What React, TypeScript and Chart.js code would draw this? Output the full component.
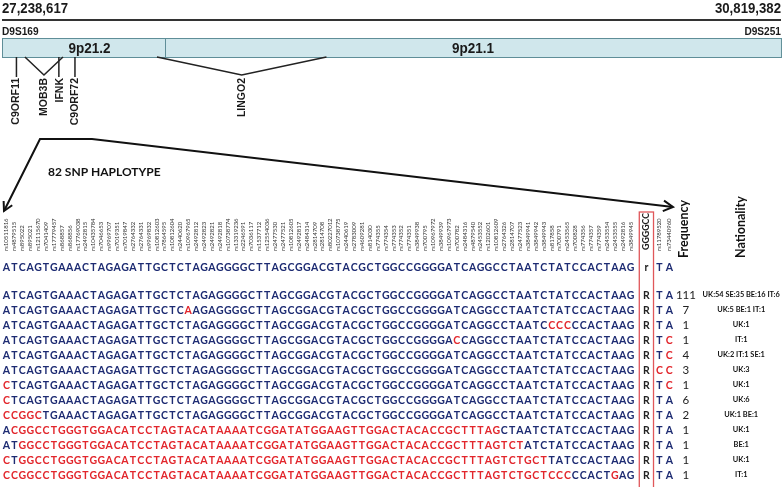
import React, { useEffect, useRef } from "react";
import { Chart, registerables } from "chart.js";

Chart.register(...registerables);

const W = 783;
const H = 487;

// ---------- genomic region (top panel) ----------
const REGION_BOUNDS = [27238617, 30819382];
const REGION_LABELS = ["27,238,617", "30,819,382"];
const MARKER_NAMES = ["D9S169", "D9S251"];
const BAND_NAMES = ["9p21.2", "9p21.1"];
const BAND_STARTS = [27238617, 27988000];
const BAND_ENDS = [27988000, 30819382];
const GENE_NAMES = ["C9ORF11", "MOB3B", "IFNK", "C9ORF72", "LINGO2"];
const GENE_STARTS = [27305000, 27344000, 27500000, 27574000, 27951000];
const GENE_ENDS = [27305000, 27519000, 27500000, 27574000, 28730000];

// ---------- haplotype panel ----------
const SNP_IDS = [
  "rs10511816", "rs4879515", "rs895022", "rs895021", "rs12115670", "rs7041409", "rs17779457", "rs868857",
  "rs868856", "rs17769038", "rs2492815", "rs10435784", "rs7046653", "rs9969707", "rs7019351", "rs7019847",
  "rs2764332", "rs2764331", "rs9969832", "rs10812603", "rs7864595", "rs10812604", "rs2440620", "rs10967965",
  "rs2492812", "rs2492823", "rs2492821", "rs2492818", "rs10738774", "rs13319236", "rs2246591", "rs7036117",
  "rs1537712", "rs12554036", "rs2477530", "rs2477521", "rs10812605", "rs2492817", "rs2484314", "rs2814709",
  "rs2814708", "rs80227012", "rs10738775", "rs2440619", "rs2783009", "rs4609281", "rs814030", "rs774355",
  "rs774354", "rs774353", "rs774352", "rs774351", "rs3849938", "rs700795", "rs10967972", "rs3849939",
  "rs10967973", "rs700782", "rs2484316", "rs4879540", "rs2453552", "rs1202601", "rs10812609", "rs2764326",
  "rs2814707", "rs2477523", "rs3849941", "rs3849942", "rs3849943", "rs817858", "rs700791", "rs2453565",
  "rs700828", "rs774356", "rs774357", "rs774359", "rs2453554", "rs2453555", "rs2492816", "rs3849945",
];
const TAIL_IDS = ["rs11789520", "rs73440960"];
const REPEAT_LABEL = "GGGGCC";

const REFERENCE = "ATCAGTGAAACTAGAGATTGCTCTAGAGGGGCTTAGCGGACGTACGCTGGCCGGGGATCAGGCCTAATCTATCCACTAAG";
const REFERENCE_REPEAT = "r";
const REFERENCE_TAIL = "TA";

// lower-case letters = allele differing from the risk haplotype (drawn red)
const HAPLOTYPES = [
  "ATCAGTGAAACTAGAGATTGCTCTAGAGGGGCTTAGCGGACGTACGCTGGCCGGGGATCAGGCCTAATCTATCCACTAAG",
  "ATCAGTGAAACTAGAGATTGCTCaAGAGGGGCTTAGCGGACGTACGCTGGCCGGGGATCAGGCCTAATCTATCCACTAAG",
  "ATCAGTGAAACTAGAGATTGCTCTAGAGGGGCTTAGCGGACGTACGCTGGCCGGGGATCAGGCCTAATCcccCCACTAAG",
  "ATCAGTGAAACTAGAGATTGCTCTAGAGGGGCTTAGCGGACGTACGCTGGCCGGGGAcCAGGCCTAATCTATCCACTAAG",
  "ATCAGTGAAACTAGAGATTGCTCTAGAGGGGCTTAGCGGACGTACGCTGGCCGGGGATCAGGCCTAATCTATCCACTAAG",
  "ATCAGTGAAACTAGAGATTGCTCTAGAGGGGCTTAGCGGACGTACGCTGGCCGGGGATCAGGCCTAATCTATCCACTAAG",
  "cTCAGTGAAACTAGAGATTGCTCTAGAGGGGCTTAGCGGACGTACGCTGGCCGGGGATCAGGCCTAATCTATCCACTAAG",
  "cTCAGTGAAACTAGAGATTGCTCTAGAGGGGCTTAGCGGACGTACGCTGGCCGGGGATCAGGCCTAATCTATCCACTAAG",
  "ccggcTGAAACTAGAGATTGCTCTAGAGGGGCTTAGCGGACGTACGCTGGCCGGGGATCAGGCCTAATCTATCCACTAAG",
  "AcggcctgggtggacatcctagtacataaaatcggatatggaagttggactacaccgctttagCTAATCTATCCACTAAG",
  "ATggcctgggtggacatcctagtacataaaatcggatatggaagttggactacaccgctttagtctATCTATCCACTAAG",
  "cTggcctgggtggacatcctagtacataaaatcggatatggaagttggactacaccgctttagtctgctTATCCACTAAG",
  "ccggcctgggtggacatcctagtacataaaatcggatatggaagttggactacaccgctttagtctgctcccCCACTgAG",
];
const REPEAT_CALLS = ["R", "R", "R", "R", "R", "R", "R", "R", "R", "R", "R", "R", "R"];
const TAIL_ALLELES = ["TA", "TA", "TA", "Tc", "Tc", "cc", "Tc", "TA", "TA", "TA", "TA", "TA", "TA"];
const FREQUENCIES = [111, 7, 1, 1, 4, 3, 1, 6, 2, 1, 1, 1, 1];
const NATIONALITIES = [
  "UK:54 SE:35 BE:16 IT:6", "UK:5 BE:1 IT:1", "UK:1", "IT:1", "UK:2 IT:1 SE:1", "UK:3", "UK:1",
  "UK:6", "UK:1 BE:1", "UK:1", "BE:1", "UK:1", "IT:1",
];

// ---------- layout (styling only) ----------
const G_LEFT_PX = 2;
const G_RIGHT_PX = 781;
const G_PER_PX = (REGION_BOUNDS[1] - REGION_BOUNDS[0]) / (G_RIGHT_PX - G_LEFT_PX);
const G_MIN = REGION_BOUNDS[0] - G_LEFT_PX * G_PER_PX;
const G_MAX = G_MIN + W * G_PER_PX;

const SNP_X0 = 6.5;
const SNP_PITCH = 7.9;
const S_MIN = -SNP_X0 / SNP_PITCH;
const S_MAX = S_MIN + W / SNP_PITCH;

const ROW_Y0 = 295;
const ROW_PITCH = 15;
const R_MIN = -ROW_Y0 / ROW_PITCH;
const R_MAX = R_MIN + H / ROW_PITCH;
const HEADER_ROW = -28 / ROW_PITCH;
const ID_BASE_ROW = -44 / ROW_PITCH;
const TITLE_BASE_ROW = -37 / ROW_PITCH;
const BOX_TOP_ROW = -83 / ROW_PITCH;

const REPEAT_COL = 81;
const TAIL_COLS = [82.65, 83.9];
const FREQ_COL = 86;
const NAT_COL = 93;

const TOP_LINE_Y = 20;
const BAND_TOP = 38;
const BAND_BOTTOM = 57;
const GENE_APEX_Y = 75;

const POINTER_PATH = [
  { x: 4, y: 211 },
  { x: 40, y: 139 },
  { x: 92, y: 139 },
  { x: 673, y: 207 },
];

const BLUE = "#1d2b72";
const RED = "#e2262c";
const DARK = "#1a1a1a";

function drawText(
  ctx: CanvasRenderingContext2D,
  s: string,
  x: number,
  y: number,
  font: string,
  color: string,
  align: CanvasTextAlign = "center",
  baseline: CanvasTextBaseline = "middle",
  rot = 0,
  sx = 1
) {
  ctx.save();
  ctx.translate(x, y);
  if (rot) ctx.rotate(rot);
  if (sx !== 1) ctx.scale(sx, 1);
  ctx.font = font;
  ctx.fillStyle = color;
  ctx.textAlign = align;
  ctx.textBaseline = baseline;
  ctx.fillText(s, 0, 0);
  ctx.restore();
}

function chevron(ctx: CanvasRenderingContext2D, tip: { x: number; y: number }, from: { x: number; y: number }, len: number) {
  const a = Math.atan2(tip.y - from.y, tip.x - from.x);
  const spread = 0.5;
  ctx.beginPath();
  ctx.moveTo(tip.x - len * Math.cos(a - spread), tip.y - len * Math.sin(a - spread));
  ctx.lineTo(tip.x, tip.y);
  ctx.lineTo(tip.x - len * Math.cos(a + spread), tip.y - len * Math.sin(a + spread));
  ctx.stroke();
}

const diagramPlugin = {
  id: "haplotypeDiagram",
  beforeDatasetsDraw(chart: any) {
    const ctx: CanvasRenderingContext2D = chart.ctx;
    const g = chart.scales.g;
    const y = chart.scales.y;
    ctx.save();
    ctx.fillStyle = "#fff";
    ctx.fillRect(0, 0, W, H);
    const top = y.getPixelForValue(BAND_TOP);
    const bot = y.getPixelForValue(BAND_BOTTOM);
    BAND_NAMES.forEach((_, i) => {
      const x0 = g.getPixelForValue(BAND_STARTS[i]);
      const x1 = g.getPixelForValue(BAND_ENDS[i]);
      ctx.fillStyle = "#d0e7ec";
      ctx.fillRect(x0, top, x1 - x0, bot - top);
      ctx.strokeStyle = "#5f8e98";
      ctx.lineWidth = 1;
      ctx.strokeRect(Math.round(x0) + 0.5, Math.round(top) + 0.5, x1 - x0, bot - top);
    });
    ctx.restore();
  },
  afterDatasetsDraw(chart: any) {
    const ctx: CanvasRenderingContext2D = chart.ctx;
    const { g, y, s, r, x } = chart.scales;
    const ARIAL = "'Liberation Sans', Arial, sans-serif";
    const LATO = "Lato, 'Open Sans', sans-serif";

    // top panel texts
    drawText(ctx, REGION_LABELS[0], g.getPixelForValue(REGION_BOUNDS[0]), y.getPixelForValue(9), `bold 15px ${ARIAL}`, DARK, "left", "middle", 0, 0.88);
    drawText(ctx, REGION_LABELS[1], g.getPixelForValue(REGION_BOUNDS[1]), y.getPixelForValue(9), `bold 15px ${ARIAL}`, DARK, "right", "middle", 0, 0.88);
    drawText(ctx, MARKER_NAMES[0], g.getPixelForValue(REGION_BOUNDS[0]), y.getPixelForValue(32), `bold 11px ${ARIAL}`, DARK, "left", "middle", 0, 0.92);
    drawText(ctx, MARKER_NAMES[1], g.getPixelForValue(REGION_BOUNDS[1]), y.getPixelForValue(32), `bold 11px ${ARIAL}`, DARK, "right", "middle", 0, 0.92);
    BAND_NAMES.forEach((n, i) => {
      const cx = (g.getPixelForValue(BAND_STARTS[i]) + g.getPixelForValue(BAND_ENDS[i])) / 2 + (i === 0 ? 6 : 0);
      drawText(ctx, n, cx, y.getPixelForValue((BAND_TOP + BAND_BOTTOM) / 2 + 1), `bold 15px ${ARIAL}`, DARK, "center", "middle", 0, 0.9);
    });
    GENE_NAMES.forEach((n, i) => {
      const cx = g.getPixelForValue((GENE_STARTS[i] + GENE_ENDS[i]) / 2) + (n === "IFNK" ? 1 : 0);
      drawText(ctx, n, cx, y.getPixelForValue(GENE_APEX_Y + 3), `bold 10.5px ${ARIAL}`, DARK, "right", "middle", -Math.PI / 2);
    });

    // pointer arrowheads
    ctx.save();
    ctx.strokeStyle = "#111";
    ctx.lineWidth = 2;
    const pts = POINTER_PATH.map((p) => ({ x: x.getPixelForValue(p.x), y: y.getPixelForValue(p.y) }));
    chevron(ctx, pts[0], pts[1], 10);
    chevron(ctx, pts[pts.length - 1], pts[pts.length - 2], 11);
    ctx.restore();
    drawText(
      ctx,
      `${SNP_IDS.length + TAIL_IDS.length} SNP HAPLOTYPE`,
      x.getPixelForValue(48),
      y.getPixelForValue(172),
      `bold 12px ${LATO}`,
      "#111",
      "left",
      "middle"
    );

    // SNP ids
    const idY = r.getPixelForValue(ID_BASE_ROW);
    SNP_IDS.forEach((id, i) => {
      drawText(ctx, id, s.getPixelForValue(i), idY, `6px ${LATO}`, "#333", "left", "middle", -Math.PI / 2);
    });
    TAIL_IDS.forEach((id, i) => {
      drawText(ctx, id, s.getPixelForValue(TAIL_COLS[i]), idY, `6px ${LATO}`, "#333", "left", "middle", -Math.PI / 2);
    });
    drawText(ctx, REPEAT_LABEL, s.getPixelForValue(REPEAT_COL), idY - 1, `bold 8.8px ${LATO}`, "#222", "left", "middle", -Math.PI / 2);
    const titleY = r.getPixelForValue(TITLE_BASE_ROW);
    drawText(ctx, "Frequency", s.getPixelForValue(FREQ_COL) - 2, titleY, `bold 12.5px ${LATO}`, "#111", "left", "middle", -Math.PI / 2);
    drawText(ctx, "Nationality", s.getPixelForValue(NAT_COL), titleY, `bold 12.5px ${LATO}`, "#111", "left", "middle", -Math.PI / 2);

    // repeat box
    ctx.save();
    ctx.strokeStyle = "#e0575a";
    ctx.lineWidth = 1.3;
    const bx0 = s.getPixelForValue(REPEAT_COL - 0.9);
    const bx1 = s.getPixelForValue(REPEAT_COL + 0.9);
    const by0 = r.getPixelForValue(BOX_TOP_ROW);
    ctx.strokeRect(bx0, by0, bx1 - bx0, H + 10 - by0);
    ctx.restore();

    const LETTER_FONT = `bold 10.5px ${LATO}`;
    const letterRow = (seq: string, row: number) => {
      const yy = r.getPixelForValue(row) + 3.8;
      for (let i = 0; i < seq.length; i++) {
        const ch = seq[i];
        const alt = ch !== ch.toUpperCase();
        drawText(ctx, ch.toUpperCase(), s.getPixelForValue(i), yy, LETTER_FONT, alt ? RED : BLUE, "center", "alphabetic");
      }
    };
    const tail = (t: string, row: number) => {
      const yy = r.getPixelForValue(row) + 3.8;
      for (let k = 0; k < t.length; k++) {
        const alt = t[k] !== t[k].toUpperCase();
        drawText(ctx, t[k].toUpperCase(), s.getPixelForValue(TAIL_COLS[k]), yy, LETTER_FONT, alt ? RED : BLUE, "center", "alphabetic");
      }
    };

    // reference haplotype row
    letterRow(REFERENCE, HEADER_ROW);
    drawText(ctx, REFERENCE_REPEAT, s.getPixelForValue(REPEAT_COL), r.getPixelForValue(HEADER_ROW) + 3.8, LETTER_FONT, "#222", "center", "alphabetic");
    tail(REFERENCE_TAIL, HEADER_ROW);

    HAPLOTYPES.forEach((seq, k) => {
      letterRow(seq, k);
      const yy = r.getPixelForValue(k) + 3.8;
      drawText(ctx, REPEAT_CALLS[k], s.getPixelForValue(REPEAT_COL), yy, LETTER_FONT, "#222", "center", "alphabetic");
      tail(TAIL_ALLELES[k], k);
      drawText(ctx, String(FREQUENCIES[k]), s.getPixelForValue(FREQ_COL), yy + 0.3, `11.5px ${LATO}`, "#222", "center", "alphabetic");
      drawText(ctx, NATIONALITIES[k], s.getPixelForValue(NAT_COL), r.getPixelForValue(k), `bold 7.4px ${LATO}`, "#111", "center", "middle");
    });
  },
};

export default function App() {
  const canvasRef = useRef<HTMLCanvasElement>(null);

  useEffect(() => {
    const canvas = canvasRef.current;
    if (!canvas) return;

    const geneLines = GENE_NAMES.map((n, i) => {
      const a = GENE_STARTS[i];
      const b = GENE_ENDS[i];
      const data =
        a === b
          ? [
              { x: a, y: BAND_BOTTOM },
              { x: a, y: GENE_APEX_Y + 2 },
            ]
          : [
              { x: a, y: BAND_BOTTOM },
              { x: (a + b) / 2, y: GENE_APEX_Y },
              { x: b, y: BAND_BOTTOM },
            ];
      return {
        label: n,
        data,
        xAxisID: "g",
        yAxisID: "y",
        showLine: true,
        borderColor: "#222",
        borderWidth: 1.5,
        pointRadius: 0,
        tension: 0,
      };
    });

    const chart = new Chart(canvas, {
      type: "scatter",
      data: {
        datasets: [
          {
            label: "region",
            data: REGION_BOUNDS.map((v) => ({ x: v, y: TOP_LINE_Y })),
            xAxisID: "g",
            yAxisID: "y",
            showLine: true,
            borderColor: "#333",
            borderWidth: 2,
            pointRadius: 0,
          },
          ...geneLines,
          {
            label: "pointer",
            data: POINTER_PATH,
            xAxisID: "x",
            yAxisID: "y",
            showLine: true,
            borderColor: "#111",
            borderWidth: 2,
            pointRadius: 0,
            tension: 0,
          },
        ] as any,
      },
      options: {
        animation: false,
        responsive: false,
        devicePixelRatio: 1,
        events: [],
        layout: { padding: 0 },
        plugins: { legend: { display: false }, tooltip: { enabled: false } },
        scales: {
          x: { type: "linear", display: false, min: 0, max: W, bounds: "data" },
          y: { type: "linear", display: false, min: 0, max: H, reverse: true, bounds: "data" },
          g: { type: "linear", axis: "x", display: false, min: G_MIN, max: G_MAX, bounds: "data" },
          s: { type: "linear", axis: "x", display: false, min: S_MIN, max: S_MAX, bounds: "data" },
          r: { type: "linear", axis: "y", display: false, min: R_MIN, max: R_MAX, reverse: true, bounds: "data" },
        } as any,
      },
      plugins: [diagramPlugin],
    });

    return () => chart.destroy();
  }, []);

  return (
    <div style={{ position: "fixed", left: 0, top: 0, width: W, height: H, background: "#fff" }}>
      <canvas ref={canvasRef} width={W} height={H} style={{ width: W, height: H, display: "block" }} />
    </div>
  );
}
